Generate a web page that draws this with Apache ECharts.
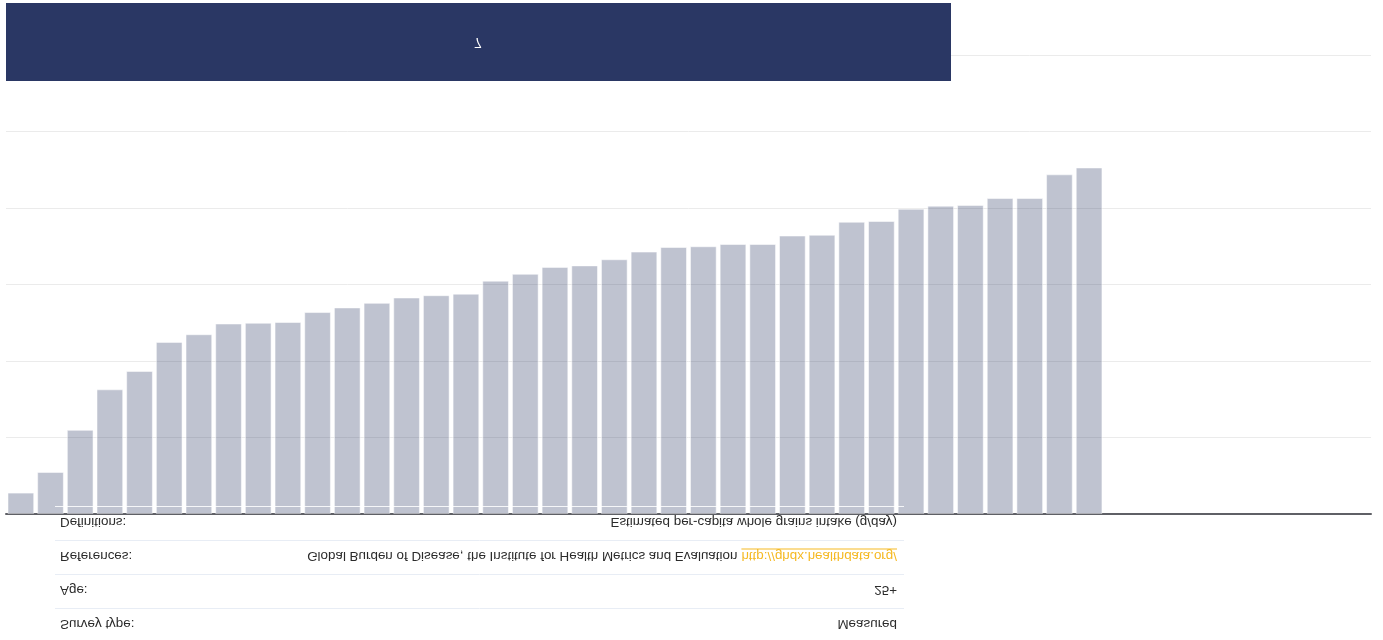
<!DOCTYPE html>
<html>
<head>
<meta charset="utf-8">
<script src="https://cdn.jsdelivr.net/npm/echarts@6/dist/echarts.min.js"></script>
<style>
html,body{margin:0;padding:0;background:#fff;}
#chart{width:1383px;height:640px;}
</style>
</head>
<body>
<div id="chart"></div>
<script>
// ---- data ----
var categories = ['1','2','3','4','5','6','7','8','9','10','11','12','13','14','15','16','17','18','19','20',
  '21','22','23','24','25','26','27','28','29','30','31','32','33','34','35','36','37','38','39','40',
  '41','42','43','44','45','46'];
var values = [2.8, 5.5, 11.0, 16.3, 18.7, 22.5, 23.5, 24.9, 25.0, 25.1, 26.4, 27.0, 27.6, 28.3, 28.6, 28.8,
  30.5, 31.4, 32.3, 32.5, 33.3, 34.3, 34.9, 35.0, 35.3, 35.3, 36.4, 36.5, 38.2, 38.3, 39.9, 40.3, 40.4,
  41.3, 41.3, 44.4, 45.3, null, null, null, null, null, null, null, null, null];
var yTicks = [0, 10, 20, 30, 40, 50, 60];
var bannerText = '7';
var tableLabels = ['Definitions:', 'References:', 'Age:', 'Survey type:'];
var tableValues = ['Estimated per-capita whole grains intake (g/day)',
  'Global Burden of Disease, the Institute for Health Metrics and Evaluation', '25+', 'Measured'];
var referenceLink = 'http://ghdx.healthdata.org/';

// ---- chart ----
var chart = echarts.init(document.getElementById('chart'), null, {renderer: 'canvas'});
var FONT = '13.4px "Liberation Sans", Arial, sans-serif';
var TXT = '#2b2b2b';
var LINK = '#f5b922';

function measure(t) {
  var c = document.createElement('canvas').getContext('2d');
  c.font = FONT;
  return c.measureText(t).width;
}

var tableLeft = 55, tableRight = 904, rowTop = 506, rowH = 34;
var valueRight = 897, labelLeft = 60;
var graphics = [];

// banner
graphics.push({type: 'rect', z: 100, shape: {x: 6, y: 3, width: 945, height: 78}, style: {fill: '#2a3764'}});
graphics.push({type: 'text', z: 101, x: 478, y: 42, scaleY: -1,
  style: {text: bannerText, x: 0, y: 0, fill: '#ffffff', font: '14px "Liberation Sans", Arial, sans-serif',
    textAlign: 'center', textVerticalAlign: 'middle'}});

// table row borders
for (var i = 0; i < tableLabels.length; i++) {
  var yb = rowTop + i * rowH + 0.5;
  graphics.push({type: 'line', z: 90, shape: {x1: tableLeft, y1: yb, x2: tableRight, y2: yb},
    style: {stroke: i === 0 ? 'rgba(255,255,255,0.85)' : '#e8edf5', lineWidth: 1}});
}
// table texts (mirrored vertically)
var linkW = measure(referenceLink);
for (var j = 0; j < tableLabels.length; j++) {
  var yc = rowTop + j * rowH + 15.5;
  graphics.push({type: 'text', z: 95, x: labelLeft, y: yc, scaleY: -1,
    style: {text: tableLabels[j], x: 0, y: 0, fill: TXT, font: FONT, textAlign: 'left', textVerticalAlign: 'middle'}});
  if (j === 1) {
    graphics.push({type: 'text', z: 95, x: valueRight, y: yc, scaleY: -1,
      style: {text: referenceLink, x: 0, y: 0, fill: LINK, font: FONT, textAlign: 'right', textVerticalAlign: 'middle'}});
    graphics.push({type: 'line', z: 95, shape: {x1: valueRight - linkW, y1: yc - 6.5, x2: valueRight, y2: yc - 6.5},
      style: {stroke: LINK, lineWidth: 1}});
    graphics.push({type: 'text', z: 95, x: valueRight - linkW - 4, y: yc, scaleY: -1,
      style: {text: tableValues[j], x: 0, y: 0, fill: TXT, font: FONT, textAlign: 'right', textVerticalAlign: 'middle'}});
  } else {
    graphics.push({type: 'text', z: 95, x: valueRight, y: yc, scaleY: -1,
      style: {text: tableValues[j], x: 0, y: 0, fill: TXT, font: FONT, textAlign: 'right', textVerticalAlign: 'middle'}});
  }
}

chart.setOption({
  animation: false,
  grid: {left: 6, right: 12, top: 55, bottom: 126, containLabel: false},
  xAxis: {
    type: 'category', data: categories,
    axisLine: {show: true, lineStyle: {color: '#5f6066', width: 2}},
    axisTick: {show: false}, axisLabel: {show: false}
  },
  yAxis: {
    type: 'value', min: yTicks[0], max: yTicks[yTicks.length - 1], interval: yTicks[1] - yTicks[0],
    axisLine: {show: false}, axisTick: {show: false}, axisLabel: {show: false},
    splitLine: {lineStyle: {color: '#ebebeb', width: 1}}
  },
  series: [{
    type: 'bar', data: values, barCategoryGap: '10%',
    itemStyle: {color: 'rgba(42,55,100,0.3)', borderColor: 'rgba(255,255,255,0.5)', borderWidth: 1}
  }],
  graphic: graphics
});
</script>
</body>
</html>
